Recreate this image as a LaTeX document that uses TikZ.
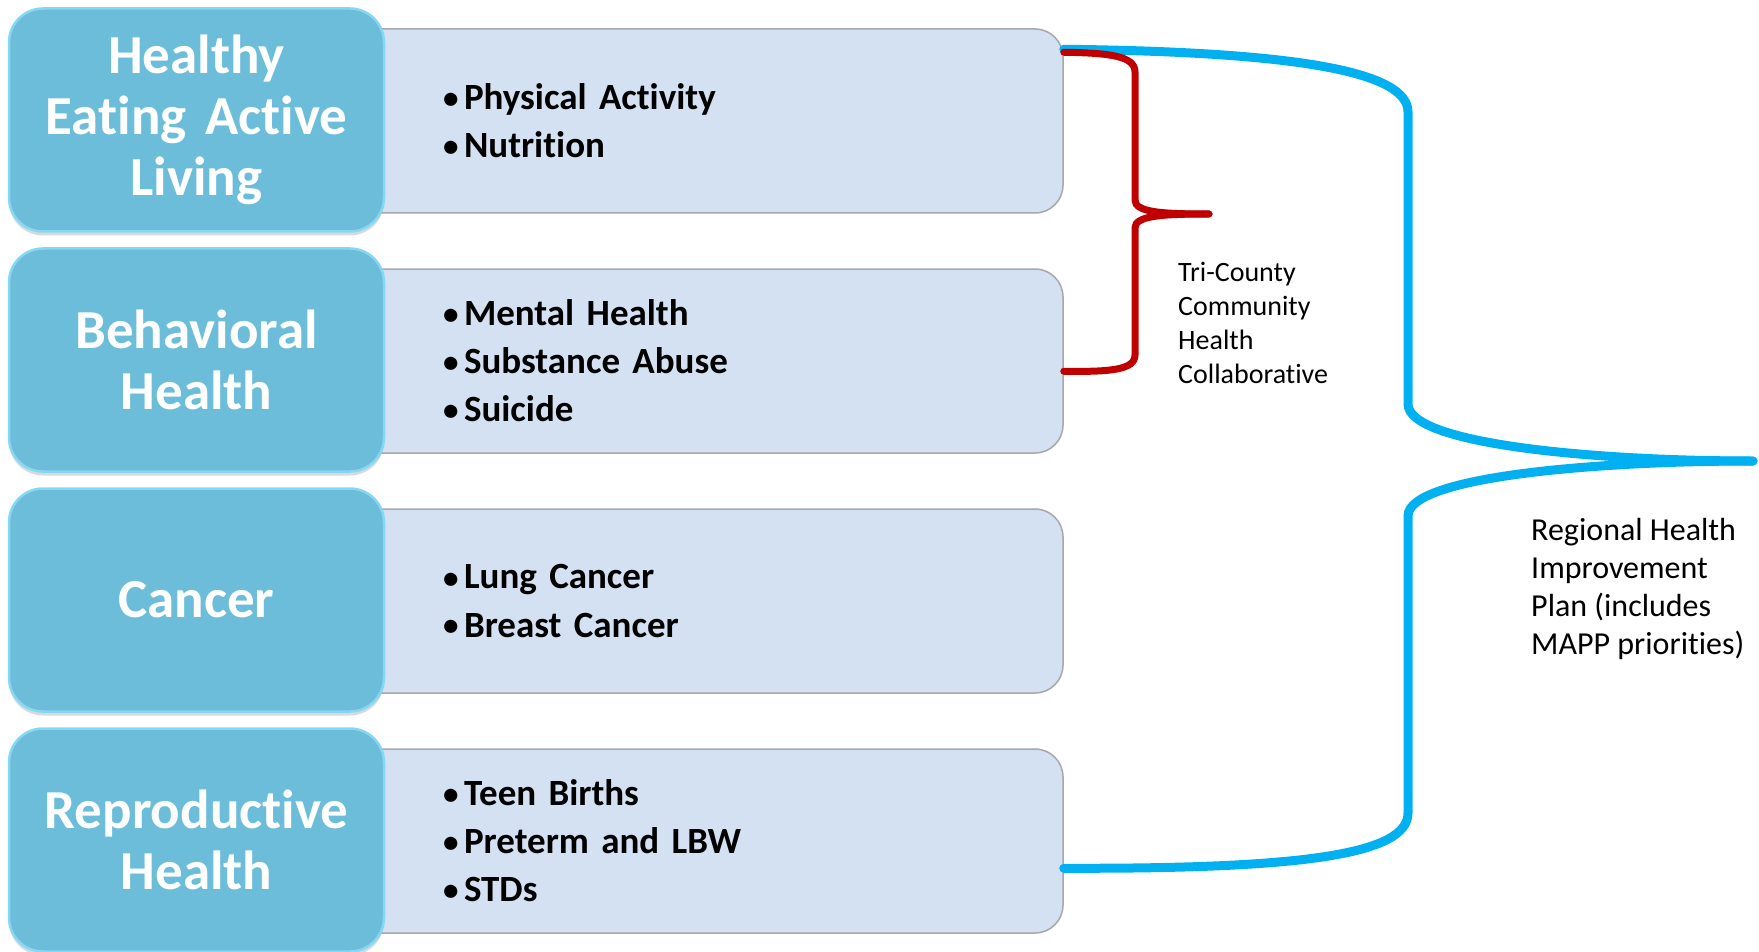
\documentclass[tikz,border=0pt]{standalone}
\usepackage{fontspec}
\setmainfont{Carlito}[Ligatures=NoCommon]
\usetikzlibrary{calc,shadows}
\definecolor{catblue}{RGB}{107,189,217}
\definecolor{catrim}{RGB}{135,215,242}
\definecolor{listfill}{RGB}{211,225,242}
\definecolor{listrim}{RGB}{165,168,172}
\definecolor{bracered}{RGB}{192,0,0}
\definecolor{bracecyan}{RGB}{0,176,240}
\newcommand{\lstbul}{\makebox[21pt][l]{\raisebox{1pt}{\fontsize{31}{31}\selectfont\textbullet}}}
\tikzset{
    cat/.style={rectangle, rounded corners=34pt, fill=catblue, draw=catrim,
        line width=2.5pt, minimum width=375pt, minimum height=223pt,
        text width=365pt, align=center, text=white,
        font=\fontsize{55}{61}\selectfont\bfseries,
        drop shadow={shadow xshift=0pt, shadow yshift=-4pt, opacity=0.3}},
    list/.style={rectangle, rounded corners=28pt, fill=listfill, draw=listrim,
        line width=1.5pt, minimum width=713pt, minimum height=184pt,
        text width=527pt, inner xsep=93pt, inner ysep=0pt, align=left,
        font=\fontsize{37}{48}\selectfont\bfseries},
    note/.style={inner sep=0pt, anchor=west, align=left},
    redbrace/.style={draw=bracered, line width=7pt, line cap=round},
    cyanbrace/.style={draw=bracecyan, line width=9pt, line cap=round}
}
\begin{document}
\begin{tikzpicture}[x=1pt, y=-1pt]
    \useasboundingbox (0,0) rectangle (1759,952);
    % topic lists
    \node[list] (hea-l) at (706.5,121) {\lstbul Physical Activity\\ \lstbul Nutrition};
    \node[list] (beh-l) at (706.5,361) {\lstbul Mental Health\\ \lstbul Substance Abuse\\ \lstbul Suicide};
    \node[list] (can-l) at (706.5,601) {\lstbul Lung Cancer\\ \lstbul Breast Cancer};
    \node[list] (rep-l) at (706.5,841) {\lstbul Teen Births\\ \lstbul Preterm and LBW\\ \lstbul STDs};
    % categories
    \node[cat] (hea) at (196.5,120) {Healthy\\ Eating Active\\ Living};
    \node[cat] (beh) at (196.5,360) {Behavioral\\ Health};
    \node[cat] (can) at (196.5,600) {Cancer};
    \node[cat] (rep) at (196.5,840) {Reproductive\\ Health};
    % labels
    \node[note, font=\fontsize{28}{34}\selectfont] (tri) at (1178,323)
        {Tri-County\\ Community\\ Health\\ Collaborative};
    \node[note, font=\fontsize{32}{38}\selectfont] (rhip) at (1531,589)
        {Regional Health\\ Improvement\\ Plan (includes\\ MAPP priorities)};
    \coordinate (meet) at (1753,461);
    \coordinate (tcip) at (1209,214);
    % braces
    \draw[cyanbrace] ($(hea-l.north east)+(0,21)$) .. controls (1300,52) and (1408,72) .. (1408,112)
        -- (1408,404) .. controls (1408,445) and (1600,461) .. (meet);
    \draw[cyanbrace] (meet) .. controls (1600,461) and (1408,476) .. (1408,516)
        -- (1408,813) .. controls (1408,855) and (1300,869) .. ($(rep-l.north east)+(0,120)$);
    \draw[redbrace] ($(hea-l.north east)+(0,24)$) .. controls (1110,53) and (1135,56) .. (1135,72)
        -- (1135,200) .. controls (1135,212) and (1160,214) .. (tcip);
    \draw[redbrace] (tcip) .. controls (1160,214) and (1135,216) .. (1135,228)
        -- (1135,355) .. controls (1135,370) and (1110,372) .. ($(beh-l.north east)+(0,103)$);
\end{tikzpicture}
\end{document}
